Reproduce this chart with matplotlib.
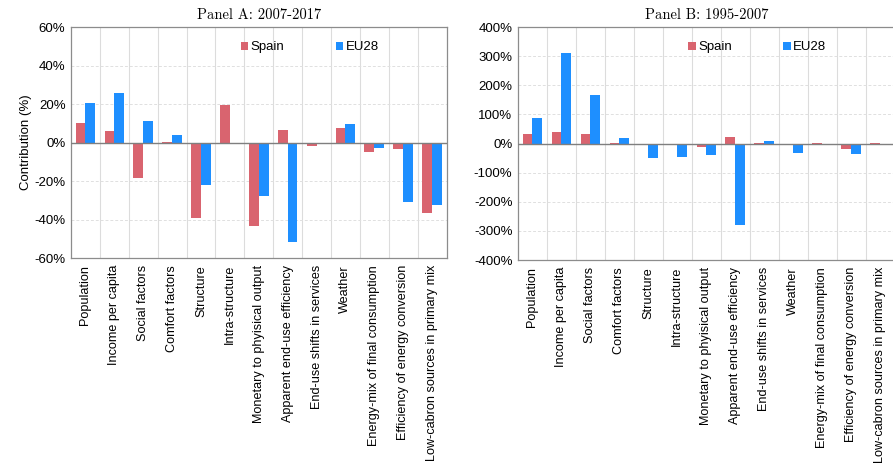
import matplotlib
matplotlib.use("Agg")
import matplotlib.pyplot as plt
from matplotlib.ticker import FuncFormatter
import numpy as np

# Factores de la descomposición
categorias = ["Population", "Income per capita", "Social factors", "Comfort factors",
              "Structure", "Intra-structure", "Monetary to phyisical output",
              "Apparent end-use efficiency", "End-use shifts in services", "Weather",
              "Energy-mix of final consumption", "Efficiency of energy conversion",
              "Low-cabron sources in primary mix"]

# Panel A: 2007-2017 (%)
spain_a = [10.4, 6.1, -18.6, 0.5, -39.2, 19.4, -43.4, 6.5, -1.8, 7.5, -4.9, -3.4, -36.4]
eu_a = [20.3, 25.8, 11.1, 4.2, -22.2, -0.4, -27.9, -51.7, -0.4, 9.4, -2.8, -31.0, -32.6]

# Panel B: 1995-2007 (%)
spain_b = [34, 41, 32, 1, -6, -6, -13, 22, 0.5, -1, 0.5, -18, 3]
eu_b = [86, 312, 165, 19, -51, -45, -41, -280, 8, -34, -3, -37, -6]

c_spain = "#D9646F"
c_eu = "#1E8FFF"

plt.rcParams["font.family"] = ["Liberation Sans", "DejaVu Sans"]

fig = plt.figure(figsize=(8.93, 4.66), dpi=100)
ax_a = fig.add_axes([0.0795, 0.446, 0.4205, 0.496])
ax_b = fig.add_axes([0.580, 0.442, 0.422, 0.500])

def panel(ax, spain, eu, ylim, step, titulo, ylabel=None):
    x = np.arange(len(categorias))
    w = 0.34
    ax.bar(x - w / 2, spain, w, color=c_spain, label="Spain", zorder=3)
    ax.bar(x + w / 2, eu, w, color=c_eu, label="EU28", zorder=3)
    ax.set_xlim(-0.5, len(categorias) - 0.5)
    ax.set_ylim(*ylim)
    ax.set_yticks(np.arange(ylim[0], ylim[1] + 1, step))
    ax.yaxis.set_major_formatter(FuncFormatter(lambda v, p: f"{v:.0f}%"))
    ax.set_xticks(x)
    ax.set_xticklabels(categorias, rotation=90, fontsize=9.1)
    ax.tick_params(axis="both", length=0, pad=5)
    ax.tick_params(axis="y", labelsize=9.5, pad=4)
    # cuadrícula
    ax.set_xticks(x[:-1] + 0.5, minor=True)
    ax.tick_params(axis="x", which="minor", length=0)
    ax.grid(axis="x", which="minor", color="#DCDCDC", lw=0.8, zorder=0)
    ax.grid(axis="y", which="major", color="#E0E0E0", lw=0.7, ls=(0, (3, 2)), zorder=0)
    ax.axhline(0, color="#7F7F7F", lw=1.0, zorder=4)
    for s in ax.spines.values():
        s.set_color("#8C8C8C")
        s.set_linewidth(0.9)
    ax.set_title(titulo, fontname="cmr10", fontsize=10.5, pad=6)
    if ylabel:
        ax.set_ylabel(ylabel, fontsize=9.5, labelpad=2)
    ax.legend(loc="upper left", bbox_to_anchor=(0.452, 0.938), ncol=2, frameon=False,
              borderpad=0, borderaxespad=0,
              handlelength=0.55, handleheight=0.55, handletextpad=0.2,
              columnspacing=3.9, fontsize=9.5)

panel(ax_a, spain_a, eu_a, (-60, 60), 20, "Panel A: 2007-2017", "Contribution (%)")
panel(ax_b, spain_b, eu_b, (-400, 400), 100, "Panel B: 1995-2007")

fig.savefig("out.png", dpi=100)
